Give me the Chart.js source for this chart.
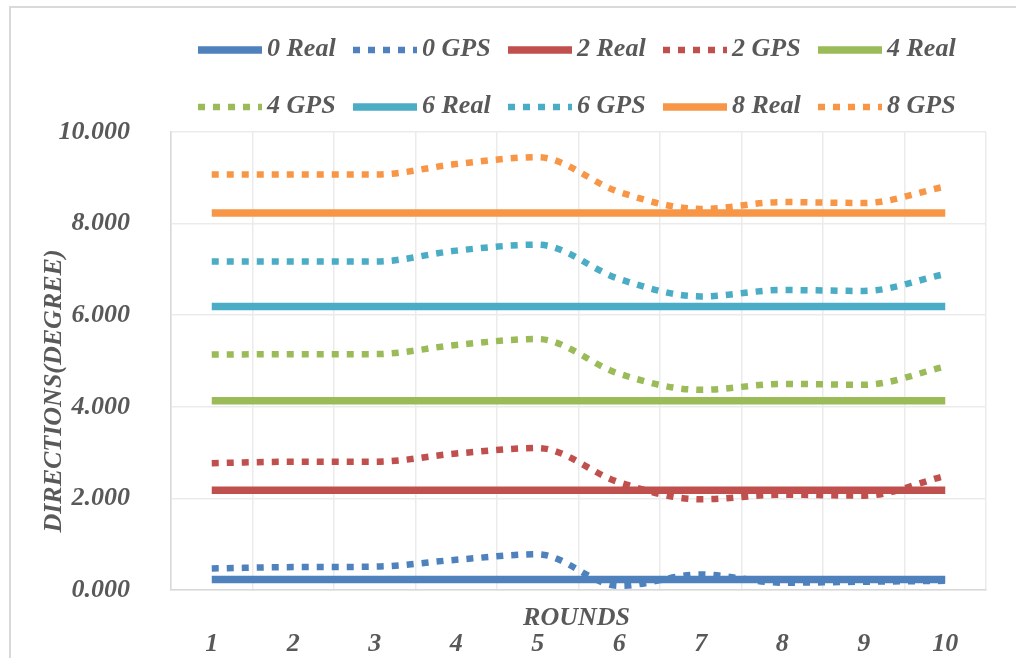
<!DOCTYPE html>
<html>
<head>
<meta charset="utf-8">
<title>Directions per round</title>
<script src="https://cdn.jsdelivr.net/npm/chart.js@4.4.1/dist/chart.umd.min.js"></script>
<style>
  html, body { margin: 0; padding: 0; background: #ffffff; }
  #wrap { width: 1016px; height: 658px; position: relative; }
</style>
</head>
<body>
<div id="wrap"><canvas id="chart"></canvas></div>
<script>
// Rounds on the x axis
const rounds = ['1', '2', '3', '4', '5', '6', '7', '8', '9', '10'];

// Reference (real) directions, constant over the rounds
const real0 = [0.23, 0.23, 0.23, 0.23, 0.23, 0.23, 0.23, 0.23, 0.23, 0.23];
const real2 = [2.18, 2.18, 2.18, 2.18, 2.18, 2.18, 2.18, 2.18, 2.18, 2.18];
const real4 = [4.13, 4.13, 4.13, 4.13, 4.13, 4.13, 4.13, 4.13, 4.13, 4.13];
const real6 = [6.19, 6.19, 6.19, 6.19, 6.19, 6.19, 6.19, 6.19, 6.19, 6.19];
const real8 = [8.23, 8.23, 8.23, 8.23, 8.23, 8.23, 8.23, 8.23, 8.23, 8.23];

// GPS measured directions
const gps0 = [0.47, 0.50, 0.51, 0.66, 0.78, 0.09, 0.34, 0.16, 0.18, 0.20];
const gps2 = [2.77, 2.80, 2.80, 2.98, 3.10, 2.35, 1.98, 2.08, 2.06, 2.49];
const gps4 = [5.14, 5.15, 5.15, 5.35, 5.48, 4.72, 4.37, 4.50, 4.48, 4.88];
const gps6 = [7.17, 7.17, 7.17, 7.41, 7.54, 6.79, 6.41, 6.55, 6.53, 6.90];
const gps8 = [9.07, 9.07, 9.07, 9.30, 9.45, 8.69, 8.32, 8.47, 8.45, 8.81];

// Series names
const seriesNames = ['0 Real', '0 GPS', '2 Real', '2 GPS', '4 Real', '4 GPS', '6 Real', '6 GPS', '8 Real', '8 GPS'];

// Y axis range and tick spacing
const yMin = 0;
const yMax = 10;
const yStep = 2;

const xTitle = 'ROUNDS';
const yTitle = 'DIRECTIONS(DEGREE)';

const FONT = "'Liberation Serif', 'Times New Roman', serif";
const TEXT = '#595959';
const BLUE = '#4F81BD', RED = '#C0504D', GREEN = '#9BBB59', TEAL = '#4BACC6', ORANGE = '#F79646';

function realSet(label, data, color) {
  return {
    label, data, borderColor: color, backgroundColor: color,
    borderWidth: 7.5, pointRadius: 0, pointHoverRadius: 0,
    tension: 0, fill: false, order: 2
  };
}
function gpsSet(label, data, color) {
  return {
    label, data, borderColor: color, backgroundColor: color,
    borderWidth: 6.5, borderDash: [7, 8], borderCapStyle: 'butt',
    pointRadius: 0, pointHoverRadius: 0,
    cubicInterpolationMode: 'monotone', tension: 0.4,
    fill: false, order: 1
  };
}

const datasets = [
  realSet(seriesNames[0], real0, BLUE),
  gpsSet(seriesNames[1], gps0, BLUE),
  realSet(seriesNames[2], real2, RED),
  gpsSet(seriesNames[3], gps2, RED),
  realSet(seriesNames[4], real4, GREEN),
  gpsSet(seriesNames[5], gps4, GREEN),
  realSet(seriesNames[6], real6, TEAL),
  gpsSet(seriesNames[7], gps6, TEAL),
  realSet(seriesNames[8], real8, ORANGE),
  gpsSet(seriesNames[9], gps8, ORANGE)
];

// Outer frame and white background
const framePlugin = {
  id: 'frame',
  beforeDraw(chart) {
    const ctx = chart.ctx;
    ctx.save();
    ctx.fillStyle = '#ffffff';
    ctx.fillRect(0, 0, chart.width, chart.height);
    ctx.strokeStyle = '#D9D9D9';
    ctx.lineWidth = 2;
    ctx.strokeRect(10, 7, chart.width + 20, chart.height + 20);
    ctx.restore();
  }
};

// Two-row legend laid out in fixed columns
const legendPlugin = {
  id: 'gridLegend',
  afterDraw(chart) {
    const ctx = chart.ctx;
    const colX = [198, 353, 508, 663, 818];
    const rowY = [50, 107];
    const sampleLen = 64;
    ctx.save();
    ctx.font = `italic bold 26px ${FONT}`;
    ctx.textBaseline = 'middle';
    ctx.textAlign = 'left';
    chart.data.datasets.forEach((ds, i) => {
      const x = colX[i % 5];
      const y = rowY[Math.floor(i / 5)];
      ctx.beginPath();
      ctx.strokeStyle = ds.borderColor;
      ctx.lineWidth = ds.borderWidth;
      ctx.lineCap = 'butt';
      ctx.setLineDash(ds.borderDash || []);
      ctx.moveTo(x, y);
      ctx.lineTo(x + sampleLen, y);
      ctx.stroke();
      ctx.setLineDash([]);
      ctx.fillStyle = TEXT;
      ctx.fillText(ds.label, x + sampleLen + 5, y - 1);
    });
    ctx.restore();
  }
};

// Axis titles: x title sits between the axis line and the round numbers
const titlesPlugin = {
  id: 'axisTitles',
  afterDraw(chart) {
    const ctx = chart.ctx;
    const area = chart.chartArea;
    ctx.save();
    ctx.font = `italic bold 26px ${FONT}`;
    ctx.fillStyle = TEXT;
    ctx.textAlign = 'center';
    ctx.textBaseline = 'middle';
    ctx.fillText(xTitle, (area.left + area.right) / 2 - 2, 618);
    ctx.translate(54, 391);
    ctx.rotate(-Math.PI / 2);
    ctx.fillText(yTitle, 0, 0);
    ctx.restore();
  }
};

new Chart(document.getElementById('chart'), {
  type: 'line',
  data: { labels: rounds, datasets },
  options: {
    responsive: true,
    maintainAspectRatio: false,
    animation: false,
    events: [],
    layout: { padding: { top: 132, right: 30, left: 0, bottom: 0 } },
    plugins: {
      legend: { display: false },
      tooltip: { enabled: false },
      title: { display: false }
    },
    scales: {
      x: {
        type: 'category',
        offset: true,
        grid: { offset: true, color: '#EBEBEB', lineWidth: 1.5, drawTicks: false },
        border: { color: '#D9D9D9', width: 1.5 },
        ticks: {
          color: TEXT, padding: 39, maxRotation: 0, autoSkip: false,
          font: { family: FONT, size: 26, style: 'italic', weight: 'bold' }
        },
        afterFit(scale) { scale.height = 68; }
      },
      y: {
        min: yMin, max: yMax,
        grid: { color: '#EBEBEB', lineWidth: 1.5, drawTicks: false },
        border: { color: '#D9D9D9', width: 1.5 },
        ticks: {
          stepSize: yStep, color: TEXT, padding: 41,
          font: { family: FONT, size: 26, style: 'italic', weight: 'bold' },
          callback: (v) => Number(v).toFixed(3)
        },
        afterFit(scale) { scale.width = 171; }
      }
    }
  },
  plugins: [framePlugin, legendPlugin, titlesPlugin]
});
</script>
</body>
</html>
